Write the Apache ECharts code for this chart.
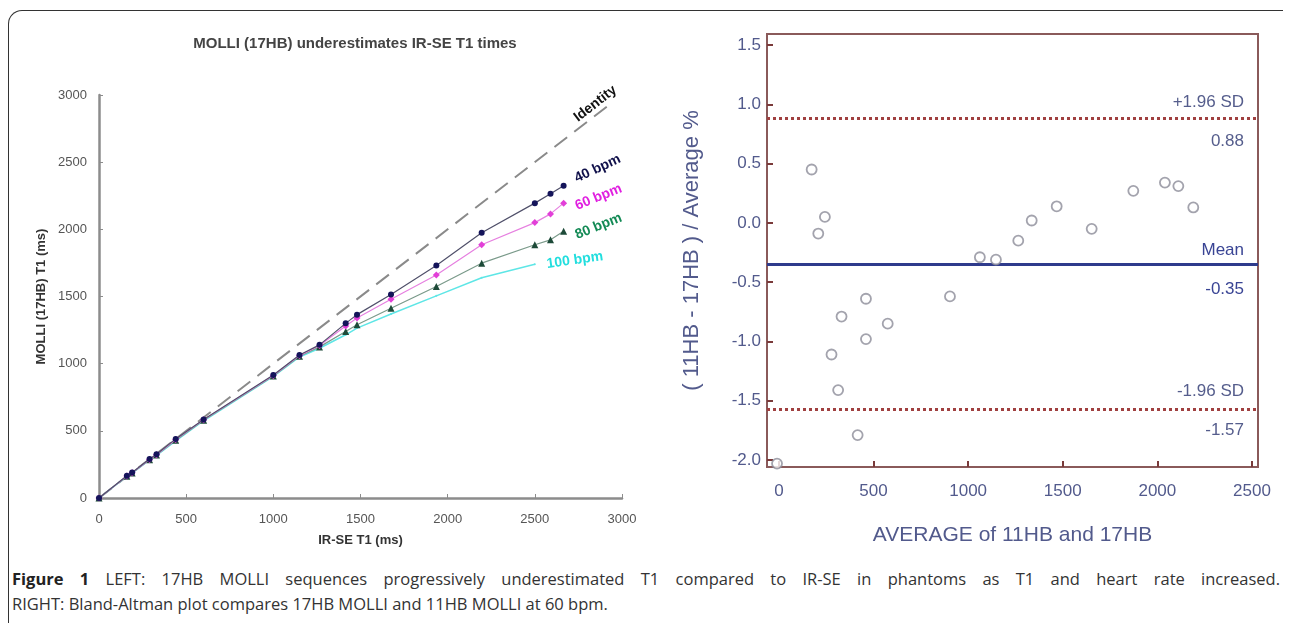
<!DOCTYPE html>
<html>
<head>
<meta charset="utf-8">
<script src="https://cdn.jsdelivr.net/npm/echarts@6/dist/echarts.min.js"></script>
<style>
  html, body { margin: 0; padding: 0; background: #fff; }
  #frame { position: absolute; left: 8px; top: 10px; width: 1274px; height: 640px;
    border-top: 1.5px solid #333; border-left: 1.5px solid #333; border-top-left-radius: 14px; }
  #chart { position: absolute; left: 0; top: 0; width: 1290px; height: 560px; }
  #caption { position: absolute; left: 12px; top: 566px; width: 1268px;
    font-family: "Open Sans", sans-serif; font-size: 16.5px; color: #333; line-height: 25px; }
  #caption .l1 { text-align: justify; text-align-last: justify; }
  #caption b { font-weight: bold; color: #222; }
</style>
</head>
<body>
<div id="frame"></div>
<div id="chart"></div>
<div id="caption">
  <div class="l1"><b>Figure 1</b> LEFT: 17HB MOLLI sequences progressively underestimated T1 compared to IR-SE in phantoms as T1 and heart rate increased.</div>
  <div>RIGHT: Bland-Altman plot compares 17HB MOLLI and 11HB MOLLI at 60 bpm.</div>
</div>
<script>
// ---- left panel: MOLLI vs IR-SE ----
var irseT1 = [0, 160, 190, 290, 330, 440, 600, 1000, 1150, 1265, 1415, 1480, 1675, 1935, 2195, 2500, 2590, 2665]
var molli40 = [0, 165, 190, 290, 325, 440, 585, 915, 1065, 1140, 1300, 1365, 1515, 1730, 1975, 2195, 2265, 2325]
var molli60 = [0, 163, 188, 287, 322, 435, 582, 912, 1060, 1135, 1280, 1340, 1480, 1660, 1885, 2050, 2115, 2195]
var molli80 = [0, 162, 186, 285, 320, 430, 578, 908, 1055, 1125, 1240, 1290, 1412, 1575, 1748, 1885, 1922, 1985]
var molli100 = [0, 160, 185, 283, 318, 425, 575, 905, 1050, 1115, 1215, 1265, 1370, 1505, 1640, 1740]
var identityX = [0, 2950]
var identityY = [0, 2950]

// ---- right panel: Bland-Altman ----
var baAverage = [-10, 173, 208, 243, 278, 313, 331, 416, 460, 460, 575, 904, 1062, 1147, 1265, 1336, 1468, 1653, 1873, 2040, 2111, 2190]
var baDiff = [-2.03, 0.45, -0.09, 0.05, -1.11, -1.41, -0.79, -1.79, -0.64, -0.98, -0.85, -0.62, -0.29, -0.31, -0.15, 0.02, 0.14, -0.05, 0.27, 0.34, 0.31, 0.13]
var baMean = -0.35
var baUpper = 0.88
var baLower = -1.57
var baXTicks = [0, 500, 1000, 1500, 2000, 2500]
var baYTicks = [-2, -1.5, -1, -0.5, 0, 0.5, 1, 1.5]

var font = '"Liberation Sans", Arial, sans-serif'
var clear = 'rgba(0,0,0,0)'

function zip(xs, ys) {
  var out = []
  for (var i = 0; i < ys.length; i++) out.push([xs[i], ys[i]])
  return out
}

// label offset is applied in the rotated frame, so turn a screen shift into it
function rotOffset(dx, dy, deg) {
  var a = deg * Math.PI / 180
  var c = Math.cos(a), s = Math.sin(a)
  return [c * dx - s * dy, s * dx + c * dy]
}

// put a label on the last point of a series
function withEndLabel(pairs, text, color, shift, rotate) {
  return pairs.map(function (p, i) {
    if (i !== pairs.length - 1) return p
    return {
      value: p,
      label: {
        show: true, formatter: text, position: 'inside', rotate: rotate,
        offset: rotOffset(shift[0], shift[1], rotate),
        color: color, fontWeight: 'bold', fontSize: 14, fontFamily: font
      }
    }
  })
}

function plain(v) { return String(v) }

var chart = echarts.init(document.getElementById('chart'))

var option = {
  animation: false,
  title: {
    text: 'MOLLI (17HB) underestimates IR-SE T1 times',
    left: 350, top: 31, textAlign: 'center',
    textStyle: { fontSize: 15, fontWeight: 'bold', color: '#444', fontFamily: font }
  },
  grid: [
    { left: 99, top: 95, width: 523, height: 403 },
    { left: 767, top: 34, width: 491, height: 433, show: true, borderColor: '#8a5a5a', borderWidth: 2 }
  ],
  xAxis: [
    {
      gridIndex: 0, type: 'value', min: 0, max: 3000, interval: 500,
      axisLine: { lineStyle: { color: '#8c8c8c', width: 2.5 } },
      axisTick: { inside: true, length: 4, lineStyle: { color: '#8c8c8c' } },
      axisLabel: { color: '#555', fontSize: 13, margin: 15, fontFamily: font, formatter: plain },
      splitLine: { show: false },
      name: 'IR-SE T1 (ms)', nameLocation: 'middle', nameGap: 36,
      nameTextStyle: { fontSize: 13, fontWeight: 'bold', color: '#333', fontFamily: font }
    },
    {
      gridIndex: 1, type: 'value', min: -63, max: 2532,
      axisLine: { onZero: false, lineStyle: { color: '#8a5a5a', width: 2 } },
      axisTick: { inside: true, length: 6, customValues: baXTicks, lineStyle: { color: '#7a3a3a', width: 2 } },
      axisLabel: { customValues: baXTicks, color: '#525a8c', fontSize: 17, margin: 16, fontFamily: font, formatter: plain },
      splitLine: { show: false },
      name: 'AVERAGE of 11HB and 17HB', nameLocation: 'middle', nameGap: 58,
      nameTextStyle: { fontSize: 21, color: '#525a8c', fontFamily: font }
    }
  ],
  yAxis: [
    {
      gridIndex: 0, type: 'value', min: 0, max: 3000, interval: 500,
      axisLine: { show: true, lineStyle: { color: '#8c8c8c', width: 2.5 } },
      axisTick: { show: true, inside: true, length: 4, lineStyle: { color: '#8c8c8c' } },
      axisLabel: { color: '#555', fontSize: 13, margin: 12, fontFamily: font, formatter: plain },
      splitLine: { show: false },
      name: 'MOLLI (17HB) T1 (ms)', nameLocation: 'middle', nameGap: 51,
      nameTextStyle: { fontSize: 13, fontWeight: 'bold', color: '#333', fontFamily: font }
    },
    {
      gridIndex: 1, type: 'value', min: -2.059, max: 1.593,
      axisLine: { show: true, onZero: false, lineStyle: { color: '#8a5a5a', width: 2 } },
      axisTick: { show: true, inside: true, length: 6, customValues: baYTicks, lineStyle: { color: '#7a3a3a', width: 2 } },
      axisLabel: {
        customValues: baYTicks, color: '#525a8c', fontSize: 17, margin: 6, fontFamily: font,
        formatter: function (v) { return v.toFixed(1) }
      },
      splitLine: { show: false },
      name: '( 11HB - 17HB ) / Average %', nameLocation: 'middle', nameGap: 64,
      nameTextStyle: { fontSize: 22, color: '#525a8c', fontFamily: font }
    }
  ],
  series: [
    {
      name: 'Identity', type: 'line', xAxisIndex: 0, yAxisIndex: 0, z: 1,
      data: withEndLabel(zip(identityX, identityY), 'Identity', '#111', [-18, 2], 38),
      showSymbol: true, symbol: 'circle', symbolSize: 1, itemStyle: { color: clear },
      lineStyle: { color: '#8a8a8a', width: 2, type: [16, 9] }
    },
    {
      name: '100 bpm', type: 'line', xAxisIndex: 0, yAxisIndex: 0, z: 2,
      data: withEndLabel(zip(irseT1, molli100), '100 bpm', '#22dede', [40, -4], 8),
      showSymbol: true, symbol: 'circle', symbolSize: 2, itemStyle: { color: '#5ee6e6' },
      lineStyle: { color: '#5ee6e6', width: 1.5 }
    },
    {
      name: '80 bpm', type: 'line', xAxisIndex: 0, yAxisIndex: 0, z: 3,
      data: withEndLabel(zip(irseT1, molli80), '80 bpm', '#138a55', [35, -5], 22),
      symbol: 'triangle', symbolSize: 7, itemStyle: { color: '#1d4a38' },
      lineStyle: { color: '#7a9a8a', width: 1.2 }
    },
    {
      name: '60 bpm', type: 'line', xAxisIndex: 0, yAxisIndex: 0, z: 4,
      data: withEndLabel(zip(irseT1, molli60), '60 bpm', '#e020e0', [35, -6], 22),
      symbol: 'diamond', symbolSize: 7, itemStyle: { color: '#e23fd8' },
      lineStyle: { color: '#e680e0', width: 1.2 }
    },
    {
      name: '40 bpm', type: 'line', xAxisIndex: 0, yAxisIndex: 0, z: 5,
      data: withEndLabel(zip(irseT1, molli40), '40 bpm', '#10104a', [34, -17], 25),
      symbol: 'circle', symbolSize: 6, itemStyle: { color: '#14145a' },
      lineStyle: { color: '#50506a', width: 1.2 }
    },
    {
      name: 'Bland-Altman', type: 'scatter', xAxisIndex: 1, yAxisIndex: 1, z: 5,
      data: zip(baAverage, baDiff),
      symbol: 'circle', symbolSize: 10,
      itemStyle: { color: '#fff', borderColor: '#8c8c98', borderWidth: 1.8 },
      markLine: {
        silent: true, symbol: ['none', 'none'],
        label: { fontSize: 17, fontFamily: font, color: '#555d8c' },
        data: [
          { yAxis: baUpper, lineStyle: { color: '#a04040', width: 3, type: [3, 3] },
            label: { formatter: '+1.96 SD', position: 'insideEndTop', distance: [14, 8] } },
          { yAxis: baUpper, lineStyle: { color: clear, width: 0 },
            label: { formatter: String(baUpper), position: 'insideEndBottom', distance: [14, 14] } },
          { yAxis: baMean, lineStyle: { color: '#2f3b8c', width: 3, type: 'solid' },
            label: { formatter: 'Mean', position: 'insideEndTop', distance: [14, 6], color: '#394494' } },
          { yAxis: baMean, lineStyle: { color: clear, width: 0 },
            label: { formatter: String(baMean), position: 'insideEndBottom', distance: [14, 16], color: '#394494' } },
          { yAxis: baLower, lineStyle: { color: '#a04040', width: 3, type: [3, 3] },
            label: { formatter: '-1.96 SD', position: 'insideEndTop', distance: [14, 9] } },
          { yAxis: baLower, lineStyle: { color: clear, width: 0 },
            label: { formatter: String(baLower), position: 'insideEndBottom', distance: [14, 13] } }
        ]
      }
    }
  ]
}

chart.setOption(option)
</script>
</body>
</html>
